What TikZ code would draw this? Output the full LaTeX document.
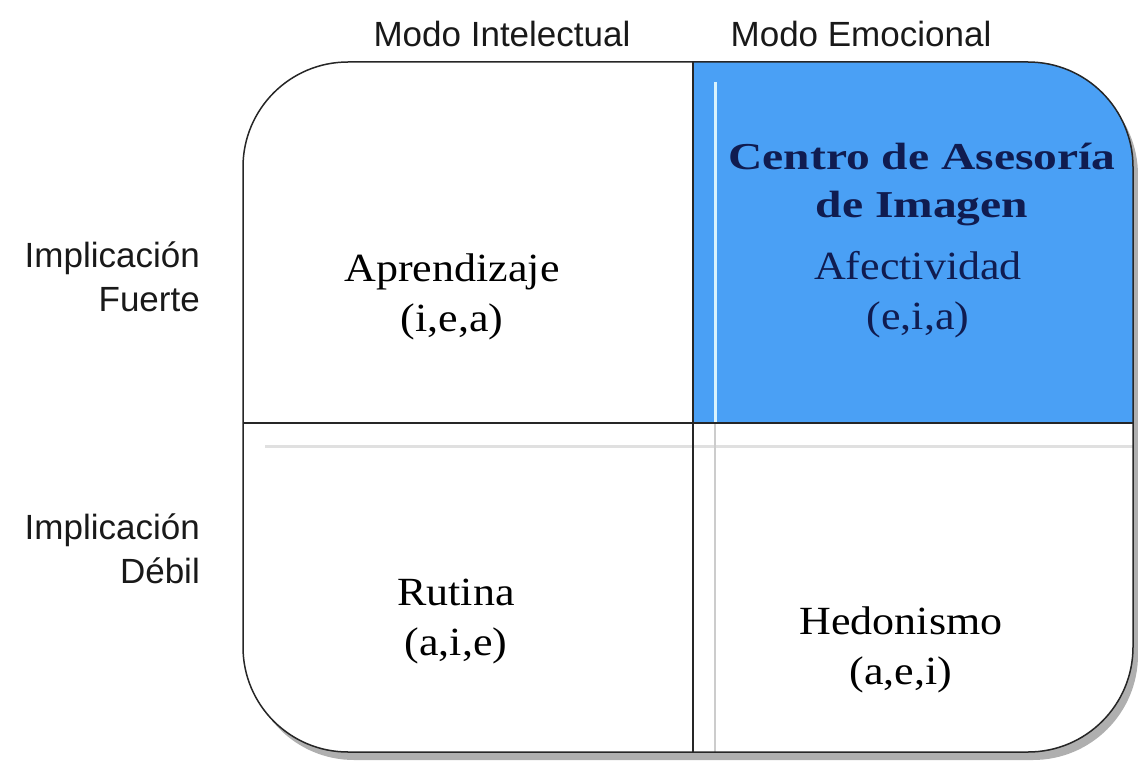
\documentclass[tikz,border=0pt]{standalone}
\usepackage{fontspec}
\setmainfont{Liberation Serif}
\setsansfont{Liberation Sans}
\newfontfamily\quadfont[FakeStretch=1.1]{Liberation Serif}
\newfontfamily\titlefont[FakeStretch=1.25]{Liberation Serif}
\definecolor{quadblue}{RGB}{74,160,245}
\definecolor{navy}{RGB}{16,28,80}
\definecolor{shadowgray}{RGB}{175,175,175}
\begin{document}
\begin{tikzpicture}[x=1pt,y=-1pt,
  hdr/.style={font=\sffamily\fontsize{35}{40}\selectfont, text=black!90, inner sep=0pt},
  side/.style={font=\sffamily\fontsize{35}{44}\selectfont, text=black!90, inner sep=0pt, align=right, anchor=east},
  quad/.style={font=\quadfont\fontsize{40}{50}\selectfont, align=center, inner sep=0pt},
  title/.style={font=\titlefont\bfseries\fontsize{38}{48}\selectfont, text=navy, align=center, inner sep=0pt}]
\useasboundingbox (0,0) rectangle (1138,773);
% shadow
\fill[shadowgray, rounded corners=105pt] (249,70) rectangle (1138,760);
% box
\fill[white, rounded corners=105pt] (243,62) rectangle (1133,752);
\begin{scope}
  \clip[rounded corners=105pt] (243,62) rectangle (1133,752);
  \fill[quadblue] (693,62) rectangle (1133,423);
  \draw[line width=3pt, black!12] (265,446) -- (1133,446);
  \draw[line width=3pt, cyan!15] (715,82) -- (715,423);
  \draw[line width=1.5pt, black!20] (715,423) -- (715,752);
\end{scope}
\draw[line width=1.5pt, black!85, rounded corners=105pt] (243,62) rectangle (1133,752);
\draw[line width=2pt, black!85] (693,62) -- (693,752);
\draw[line width=2pt, black!85] (243,423) -- (1133,423);
% headers
\node[hdr] (mi) at (502,34) {Modo Intelectual};
\node[hdr] (me) at (861,34) {Modo Emocional};
\node[side] (fu) at (200,277) {Implicación\\Fuerte};
\node[side] (de) at (200,549) {Implicación\\Débil};
% quadrants
\node[quad] (ap) at (452,297) {Aprendizaje\\(i,e,a)};
\node[title] (ce) at (922,184) {Centro de Asesoría\\de Imagen};
\node[quad, text=navy] (af) at (918,295) {Afectividad\\(e,i,a)};
\node[quad] (ru) at (456,622) {Rutina\\(a,i,e)};
\node[quad] (he) at (901,650) {Hedonismo\\(a,e,i)};
\end{tikzpicture}
\end{document}
